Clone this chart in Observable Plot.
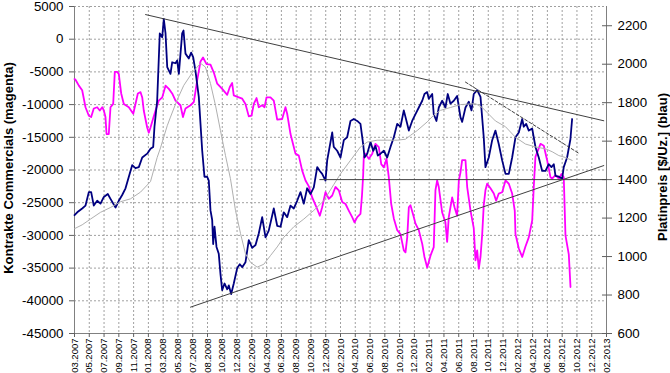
<!DOCTYPE html>
<html><head><meta charset="utf-8">
<script src="https://cdn.jsdelivr.net/npm/d3@7"></script>
<script src="https://cdn.jsdelivr.net/npm/@observablehq/plot@0.6"></script>
<style>body{margin:0;background:#fff} svg{display:block}</style>
</head><body><div id="chart"></div>
<script>
// x tick labels (equally spaced across the axis)
const xTickLabels = ["03.2007","05.2007","07.2007","09.2007","11.2007","01.2008","03.2008","05.2008","07.2008","08.2008","10.2008","12.2008","02.2009","04.2009","06.2009","08.2009","10.2009","12.2009","02.2010","04.2010","06.2010","08.2010","10.2010","12.2010","02.2011","04.2011","06.2011","08.2011","10.2011","12.2011","02.2012","04.2012","06.2012","08.2012","10.2012","12.2012","02.2013"];
const leftTicks = [5000, 0, -5000, -10000, -15000, -20000, -25000, -30000, -35000, -40000, -45000];
const rightTicks = [600, 800, 1000, 1200, 1400, 1600, 1800, 2000, 2200];
const leftTitle = "Kontrakte Commercials (magenta)";
const rightTitle = "Platinpreis [$/Uz.] (blau)";

// Platinum price [$/oz] (decimal year, price) — right axis, blue
const platinum = [[2007.167,1215],[2007.197,1230],[2007.252,1250],[2007.289,1265],[2007.326,1335],[2007.352,1335],[2007.381,1265],[2007.419,1290],[2007.456,1275],[2007.493,1310],[2007.537,1325],[2007.567,1300],[2007.623,1255],[2007.659,1290],[2007.697,1320],[2007.734,1355],[2007.771,1415],[2007.808,1475],[2007.845,1460],[2007.882,1465],[2007.920,1515],[2007.975,1535],[2008.012,1560],[2008.042,1570],[2008.056,1675],[2008.086,1810],[2008.115,2160],[2008.142,2140],[2008.160,2235],[2008.179,2160],[2008.198,1985],[2008.234,1950],[2008.253,2010],[2008.290,2005],[2008.309,2020],[2008.327,1950],[2008.364,2160],[2008.379,2175],[2008.401,2055],[2008.438,2030],[2008.464,2060],[2008.487,2035],[2008.512,1965],[2008.549,1830],[2008.587,1550],[2008.612,1415],[2008.642,1415],[2008.660,1395],[2008.679,1240],[2008.698,1190],[2008.709,1065],[2008.724,1155],[2008.746,1050],[2008.771,1015],[2008.790,910],[2008.809,825],[2008.835,860],[2008.865,830],[2008.883,850],[2008.909,805],[2008.938,860],[2008.976,940],[2009.005,960],[2009.032,945],[2009.068,970],[2009.105,1085],[2009.143,1045],[2009.180,1060],[2009.216,1120],[2009.254,1205],[2009.291,1100],[2009.327,1135],[2009.383,1250],[2009.421,1160],[2009.458,1155],[2009.494,1230],[2009.532,1205],[2009.569,1265],[2009.606,1250],[2009.643,1290],[2009.680,1335],[2009.717,1275],[2009.754,1355],[2009.791,1325],[2009.828,1360],[2009.866,1465],[2009.895,1445],[2009.921,1430],[2009.958,1395],[2009.977,1500],[2010.033,1645],[2010.050,1570],[2010.088,1550],[2010.125,1515],[2010.162,1605],[2010.199,1620],[2010.236,1705],[2010.273,1715],[2010.311,1705],[2010.347,1690],[2010.377,1585],[2010.392,1515],[2010.422,1535],[2010.459,1595],[2010.489,1550],[2010.514,1575],[2010.540,1525],[2010.570,1535],[2010.607,1550],[2010.644,1515],[2010.681,1570],[2010.718,1620],[2010.756,1690],[2010.792,1675],[2010.829,1760],[2010.859,1705],[2010.885,1655],[2010.922,1705],[2010.959,1740],[2010.996,1775],[2011.034,1810],[2011.059,1845],[2011.089,1855],[2011.107,1820],[2011.145,1845],[2011.162,1740],[2011.192,1705],[2011.218,1775],[2011.256,1810],[2011.292,1775],[2011.318,1845],[2011.348,1795],[2011.385,1810],[2011.422,1835],[2011.459,1725],[2011.478,1700],[2011.515,1775],[2011.552,1805],[2011.582,1760],[2011.607,1845],[2011.645,1865],[2011.682,1830],[2011.718,1620],[2011.737,1465],[2011.774,1515],[2011.812,1605],[2011.848,1655],[2011.885,1585],[2011.923,1500],[2011.960,1430],[2011.997,1430],[2012.034,1515],[2012.071,1620],[2012.108,1645],[2012.146,1715],[2012.163,1675],[2012.190,1690],[2012.219,1655],[2012.257,1665],[2012.293,1570],[2012.330,1515],[2012.368,1445],[2012.405,1445],[2012.441,1480],[2012.471,1465],[2012.497,1480],[2012.516,1420],[2012.552,1415],[2012.590,1405],[2012.608,1465],[2012.645,1515],[2012.682,1610],[2012.701,1715]];

// Moving average of platinum price (grey)
const platinumAvg = [[2007.167,1145],[2007.252,1165],[2007.345,1195],[2007.456,1230],[2007.567,1255],[2007.678,1285],[2007.789,1300],[2007.901,1335],[2008.012,1390],[2008.086,1515],[2008.123,1565],[2008.198,1680],[2008.234,1725],[2008.309,1815],[2008.382,1890],[2008.475,1955],[2008.568,2005],[2008.623,1985],[2008.679,1900],[2008.735,1785],[2008.790,1655],[2008.846,1525],[2008.901,1405],[2008.957,1240],[2009.013,1120],[2009.068,1015],[2009.124,970],[2009.198,945],[2009.272,960],[2009.346,1005],[2009.421,1050],[2009.494,1100],[2009.606,1155],[2009.717,1195],[2009.828,1240],[2009.939,1290],[2010.051,1375],[2010.125,1430],[2010.236,1500],[2010.347,1570],[2010.422,1595],[2010.533,1605],[2010.644,1605],[2010.755,1605],[2010.848,1610],[2010.903,1630],[2010.978,1655],[2011.089,1700],[2011.162,1735],[2011.237,1760],[2011.348,1775],[2011.459,1790],[2011.626,1795],[2011.701,1775],[2011.774,1740],[2011.848,1705],[2011.960,1675],[2012.071,1620],[2012.182,1585],[2012.293,1570],[2012.405,1560],[2012.479,1545],[2012.553,1525],[2012.627,1515],[2012.701,1500]];

// Commercials net contracts (left axis, magenta)
const commercials = [[2007.167,-6100],[2007.178,-6200],[2007.215,-7100],[2007.252,-7800],[2007.289,-10400],[2007.326,-11700],[2007.352,-11900],[2007.381,-10600],[2007.419,-10400],[2007.448,-10900],[2007.475,-10400],[2007.493,-10900],[2007.511,-11900],[2007.523,-14500],[2007.548,-14500],[2007.567,-10400],[2007.597,-9900],[2007.615,-5000],[2007.642,-5000],[2007.659,-5300],[2007.686,-8300],[2007.715,-9900],[2007.771,-10400],[2007.820,-11400],[2007.845,-9900],[2007.871,-8300],[2007.901,-8100],[2007.920,-8900],[2007.937,-10900],[2007.975,-13500],[2007.993,-14300],[2008.012,-13500],[2008.042,-12100],[2008.068,-10900],[2008.104,-9400],[2008.142,-8900],[2008.179,-7100],[2008.216,-7600],[2008.253,-8300],[2008.290,-9400],[2008.345,-10100],[2008.373,-11900],[2008.401,-10600],[2008.457,-10100],[2008.494,-9600],[2008.531,-6300],[2008.568,-3400],[2008.596,-2800],[2008.635,-3800],[2008.679,-3900],[2008.716,-5100],[2008.754,-6800],[2008.809,-7600],[2008.865,-8500],[2008.894,-7300],[2008.920,-6700],[2008.938,-8600],[2008.994,-8900],[2009.032,-9100],[2009.068,-9900],[2009.105,-11800],[2009.135,-11700],[2009.161,-9900],[2009.191,-9000],[2009.216,-10400],[2009.254,-10100],[2009.280,-10400],[2009.302,-8900],[2009.346,-8900],[2009.383,-9400],[2009.421,-12300],[2009.476,-12200],[2009.513,-10400],[2009.532,-11400],[2009.569,-14500],[2009.602,-16300],[2009.624,-17500],[2009.661,-17800],[2009.699,-20100],[2009.736,-21600],[2009.773,-22500],[2009.810,-24200],[2009.858,-25700],[2009.895,-27000],[2009.921,-25700],[2009.958,-23400],[2009.995,-24400],[2010.033,-23900],[2010.069,-22600],[2010.106,-23100],[2010.144,-24900],[2010.181,-25200],[2010.217,-26200],[2010.255,-27200],[2010.281,-28000],[2010.311,-27200],[2010.347,-26700],[2010.364,-23900],[2010.377,-20800],[2010.384,-18000],[2010.403,-17500],[2010.440,-18300],[2010.478,-17500],[2010.514,-16000],[2010.551,-16500],[2010.578,-19100],[2010.607,-19600],[2010.637,-18300],[2010.662,-21100],[2010.689,-25200],[2010.718,-27400],[2010.756,-29200],[2010.792,-29800],[2010.829,-32300],[2010.848,-32600],[2010.867,-30300],[2010.885,-25700],[2010.903,-25400],[2010.940,-27200],[2010.959,-28200],[2010.996,-29200],[2011.034,-31300],[2011.059,-33300],[2011.089,-34900],[2011.126,-33100],[2011.162,-31800],[2011.181,-23100],[2011.200,-21600],[2011.218,-22600],[2011.256,-26500],[2011.292,-28000],[2011.311,-31000],[2011.329,-27200],[2011.367,-24200],[2011.393,-25700],[2011.422,-27000],[2011.441,-21600],[2011.459,-20400],[2011.478,-18500],[2011.515,-18500],[2011.534,-22600],[2011.571,-26200],[2011.607,-28900],[2011.626,-33800],[2011.645,-32300],[2011.663,-35100],[2011.682,-33300],[2011.701,-29800],[2011.718,-25400],[2011.737,-23100],[2011.756,-22100],[2011.793,-22800],[2011.830,-23600],[2011.856,-24700],[2011.885,-23600],[2011.923,-23400],[2011.960,-21600],[2011.997,-22100],[2012.034,-23600],[2012.063,-26200],[2012.071,-29800],[2012.108,-32000],[2012.146,-33300],[2012.182,-31700],[2012.219,-30300],[2012.257,-27700],[2012.275,-22400],[2012.293,-18000],[2012.349,-16000],[2012.386,-16300],[2012.423,-18500],[2012.460,-21100],[2012.479,-21300],[2012.516,-20800],[2012.553,-21300],[2012.583,-20600],[2012.608,-21100],[2012.627,-30000],[2012.664,-32900],[2012.683,-37900]];

// Trend lines (in price units)
const resistanceLine = [[2007.957,2258],[2013.053,1706]];
const supportLine = [[2008.457,737],[2013.053,1473]];
const level1400 = [[2009.895,1400],[2013.083,1400]];
const shortDownTrend = [[2011.515,1907],[2012.775,1537]];

// axis configuration
const x0 = 2007 + 2/12, x1 = 2013 + 1/12;
const leftDomain = [-45000, 5000];
const rightDomain = [600, 2300];
const toLeft = p => leftDomain[0] + (p - rightDomain[0]) * (leftDomain[1] - leftDomain[0]) / (rightDomain[1] - rightDomain[0]);
const xTicks = xTickLabels.map((_, i) => x0 + i * (x1 - x0) / (xTickLabels.length - 1));
const xLabel = d => xTickLabels[Math.round((d - x0) / (x1 - x0) * (xTickLabels.length - 1))];
const rightTickPos = rightTicks.map(toLeft);
const rightLabel = d => String(rightTicks[rightTickPos.findIndex(v => Math.abs(v - d) < 1e-6)]);

const px = d => d[0];
const py = d => d[1];
const pr = d => toLeft(d[1]);
const grid = {stroke: "#a0a0a0", strokeOpacity: 1, strokeDasharray: "2,2", strokeWidth: 1};
const trend = {x: px, y: pr, stroke: "#404040", strokeWidth: 1};

const chart = Plot.plot({
  width: 670, height: 373,
  marginLeft: 74, marginRight: 64, marginTop: 6, marginBottom: 40,
  style: {fontFamily: "'Liberation Sans', Arial, sans-serif", fontSize: "13.3px", background: "white", color: "black"},
  x: {domain: [x0, x1]},
  y: {domain: leftDomain},
  marks: [
    Plot.gridY(leftTicks, grid),
    Plot.gridX(xTicks.slice(1, -1), grid),
    Plot.ruleX([x0, x1], {stroke: "#808080"}),
    Plot.ruleY([leftDomain[0]], {stroke: "#808080"}),
    Plot.axisY(leftTicks, {anchor: "left", tickSize: 5, tickPadding: 6, tickFormat: d => String(d), label: null, stroke: "#606060", fontSize: 13.3}),
    Plot.axisY(rightTickPos, {anchor: "right", tickSize: 10, dx: -5, tickPadding: 6, tickFormat: rightLabel, label: null, stroke: "#606060", fontSize: 13.3}),
    Plot.axisX(xTicks, {anchor: "bottom", tickSize: 4, tickPadding: 1, tickRotate: -90, tickFormat: xLabel, label: null, stroke: "#606060", fontSize: 9.5}),
    Plot.line(commercials, {x: px, y: py, stroke: "#ff00ff", strokeWidth: 1.8}),
    Plot.line(platinum, {x: px, y: pr, stroke: "#000080", strokeWidth: 1.8}),
    Plot.line(platinumAvg, {x: px, y: pr, stroke: "#b0b0b0", strokeWidth: 1}),
    Plot.line(resistanceLine, trend),
    Plot.line(supportLine, trend),
    Plot.line(level1400, trend),
    Plot.line(shortDownTrend, {...trend, strokeDasharray: "3,2"}),
    Plot.text([leftTitle], {frameAnchor: "left", textAnchor: "middle", rotate: -90, dx: -66, dy: -2, fontWeight: "bold", fontSize: 13}),
    Plot.text([rightTitle], {frameAnchor: "right", textAnchor: "middle", rotate: -90, dx: 56, dy: -3, fontWeight: "bold", fontSize: 13})
  ]
});
document.getElementById("chart").appendChild(chart);
</script>
</body></html>
